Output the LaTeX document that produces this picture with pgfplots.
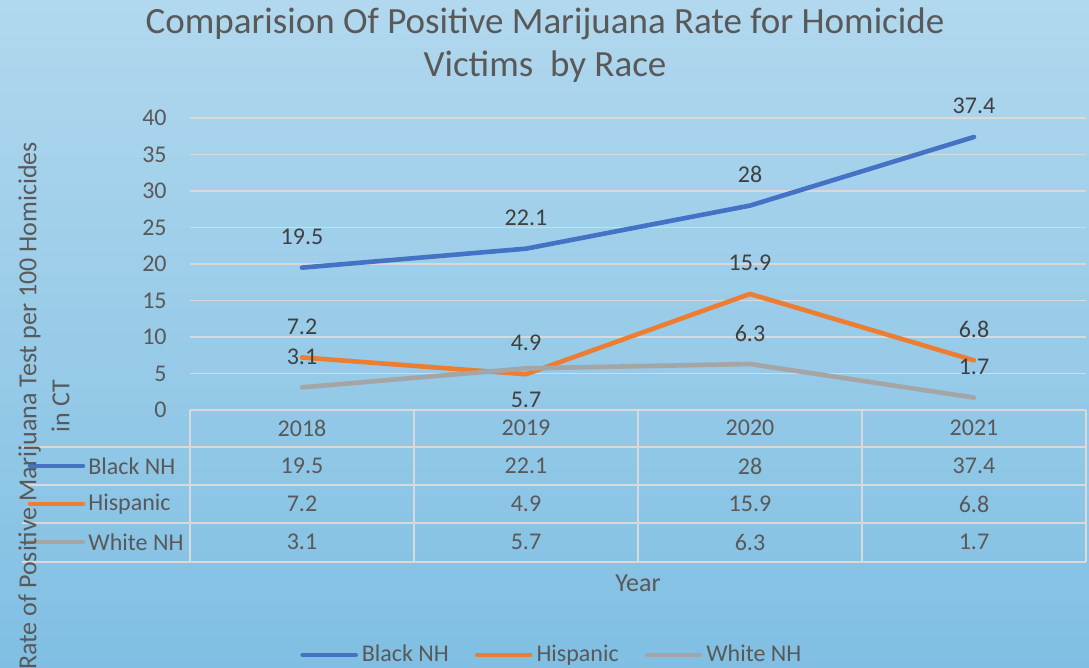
\documentclass[border=0pt]{standalone}
\usepackage{fontspec}
\setmainfont{Carlito}
\usepackage{pgfplots}
\pgfplotsset{compat=1.18}
\usepackage{pgfplotstable}

\definecolor{bgtop}{HTML}{B1D8EE}
\definecolor{bgbot}{HTML}{80BFE3}
\definecolor{txt}{HTML}{595959}
\definecolor{lbl}{HTML}{404040}
\definecolor{gridc}{HTML}{D9D9D9}
\definecolor{cblack}{HTML}{4472C4}
\definecolor{chisp}{HTML}{ED7D31}
\definecolor{cwhite}{HTML}{A5A5A5}

\newcommand{\smallfont}{\fontsize{12}{14.5}\selectfont}
\newcommand{\titlefont}{\fontsize{13}{16.5}\selectfont}

% positive marijuana rate per 100 homicides, CT
\pgfplotstableread{
x   year black hisp white woff
0.5 2018 19.5  7.2  3.1   15.5
1.5 2019 22.1  4.9  5.7   -16
2.5 2020 28    15.9 6.3   15.5
3.5 2021 37.4  6.8  1.7   15.5
}\rates

\begin{document}
\begin{tikzpicture}
\path[use as bounding box, clip] (-95pt,-129pt) rectangle (449.5pt,205pt);
\shade[top color=bgtop, bottom color=bgbot] (-95pt,-129pt) rectangle (449.5pt,205pt);

\begin{axis}[
    scale only axis,
    width=448pt,
    height=146pt,
    xmin=0, xmax=4,
    ymin=0, ymax=40,
    ytick={0,5,...,40},
    xtick=\empty,
    ymajorgrids=true,
    grid style={gridc, line width=0.75pt},
    axis line style={draw=none},
    major tick length=0pt,
    clip=false,
    /pgf/number format/assume math mode=true,
    yticklabel style={font=\smallfont, text=txt, inner sep=0pt, xshift=-11.5pt},
    legend style={
        at={(0.405,-0.839)},
        anchor=center,
        draw=none,
        fill=none,
        legend columns=3,
        font=\smallfont,
        text=txt,
        /tikz/every even column/.append style={column sep=11pt}
    },
    legend image code/.code={\draw[#1, line cap=round] (0pt,0pt) -- (26.5pt,0pt);},
]

% the three series
\addplot[cblack, line width=2.3pt, mark=none, line join=round, line cap=round,
    nodes near coords, point meta=explicit symbolic,
    every node near coord/.append style={anchor=center, yshift=15.5pt, text=lbl, font=\smallfont}]
    table[x=x, y=black, meta=black] {\rates};
\addlegendentry{Black NH}

\addplot[chisp, line width=2.3pt, mark=none, line join=round, line cap=round,
    nodes near coords, point meta=explicit symbolic,
    every node near coord/.append style={anchor=center, yshift=15.5pt, text=lbl, font=\smallfont}]
    table[x=x, y=hisp, meta=hisp] {\rates};
\addlegendentry{Hispanic}

\addplot[cwhite, line width=2.3pt, mark=none, line join=round, line cap=round,
    nodes near coords, point meta=explicit symbolic,
    visualization depends on={\thisrow{woff}\as\woff},
    every node near coord/.append style={anchor=center, yshift=\woff pt, text=lbl, font=\smallfont}]
    table[x=x, y=white, meta=white] {\rates};
\addlegendentry{White NH}

% data table under the plot
\addplot[draw=none, forget plot, mark=none, nodes near coords, point meta=explicit symbolic,
    every node near coord/.append style={anchor=center, text=txt, font=\smallfont}]
    table[x=x, y expr=-2.466, meta=year] {\rates};
\addplot[draw=none, forget plot, mark=none, nodes near coords, point meta=explicit symbolic,
    every node near coord/.append style={anchor=center, text=txt, font=\smallfont}]
    table[x=x, y expr=-7.671, meta=black] {\rates};
\addplot[draw=none, forget plot, mark=none, nodes near coords, point meta=explicit symbolic,
    every node near coord/.append style={anchor=center, text=txt, font=\smallfont}]
    table[x=x, y expr=-12.877, meta=hisp] {\rates};
\addplot[draw=none, forget plot, mark=none, nodes near coords, point meta=explicit symbolic,
    every node near coord/.append style={anchor=center, text=txt, font=\smallfont}]
    table[x=x, y expr=-18.082, meta=white] {\rates};
\end{axis}

% table grid
\draw[gridc, line width=0.75pt] (0pt,0pt) -- (448pt,0pt);
\foreach \yy in {-18.5,-37.5,-56.5,-76}
    \draw[gridc, line width=0.75pt] (-84pt,\yy pt) -- (448pt,\yy pt);
\foreach \xx in {0,112,224,336,448}
    \draw[gridc, line width=0.75pt] (\xx pt,0pt) -- (\xx pt,-76pt);

% row keys
\draw[cblack, line width=2.3pt, line cap=round] (-80pt,-28pt) -- (-53.5pt,-28pt);
\node[anchor=west, text=txt, font=\smallfont, inner sep=0pt] at (-51pt,-28pt) {Black NH};
\draw[chisp, line width=2.3pt, line cap=round] (-80pt,-47pt) -- (-53.5pt,-47pt);
\node[anchor=west, text=txt, font=\smallfont, inner sep=0pt] at (-51pt,-47pt) {Hispanic};
\draw[cwhite, line width=2.3pt, line cap=round] (-80pt,-66pt) -- (-53.5pt,-66pt);
\node[anchor=west, text=txt, font=\smallfont, inner sep=0pt] at (-51pt,-66pt) {White NH};

% labels and title
\node[text=txt, font=\titlefont] at (224pt,-86.5pt) {Year};
\node[rotate=90, align=center, text=txt, font=\titlefont]
    at (-73pt,2pt) {Rate of Positive Marijuana Test per 100 Homicides\\in CT};
\node[align=center, text=txt, font=\fontsize{18.5}{21.5}\selectfont]
    at (177.5pt,182.5pt) {Comparision Of Positive Marijuana Rate for Homicide\\Victims\ \ by Race};
\end{tikzpicture}
\end{document}
